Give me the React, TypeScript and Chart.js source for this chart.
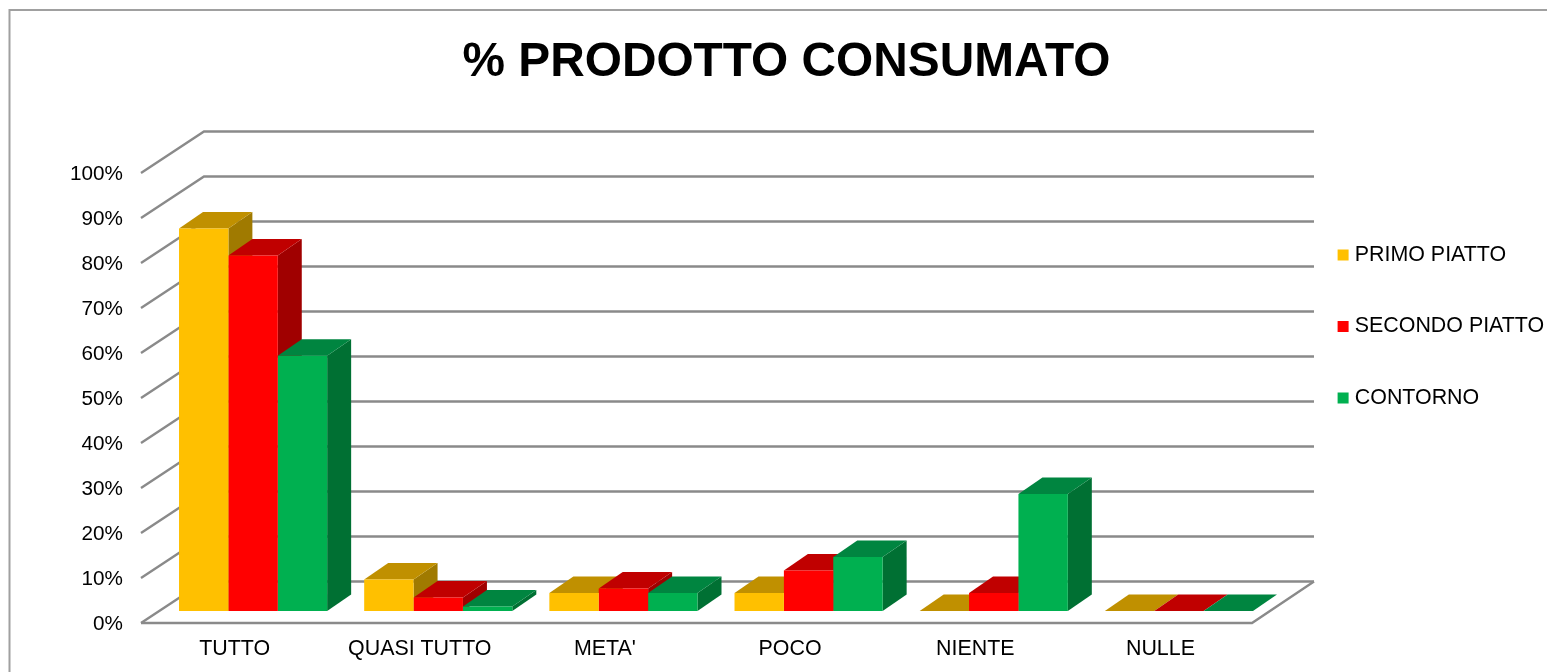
import React, { useEffect, useRef } from "react";
import { Chart, registerables } from "chart.js";

Chart.register(...registerables);

const categories = ["TUTTO", "QUASI TUTTO", "META'", "POCO", "NIENTE", "NULLE"];
const primoPiatto = [85, 7, 4, 4, 0, 0];
const secondoPiatto = [79, 3, 5, 9, 4, 0];
const contorno = [56.7, 1, 4, 12, 26, 0];
const seriesNames = ["PRIMO PIATTO", "SECONDO PIATTO", "CONTORNO"];
const frontColors = ["#FFC000", "#FF0000", "#00B050"];
const topColors = ["#C09000", "#C00000", "#008540"];
const sideColors = ["#A07A00", "#A00000", "#007033"];
const yTicks = [0, 10, 20, 30, 40, 50, 60, 70, 80, 90, 100];

const FONT = "'Liberation Sans', Arial, sans-serif";
const WALL = { dx: 63, dy: -41.5 };
const BAR_SHIFT = { dx: 19.5, dy: -12 };
const BAR_DEPTH = { dx: 24, dy: -16.5 };

const poly = (ctx: CanvasRenderingContext2D, pts: number[][], fill: string) => {
  ctx.beginPath();
  pts.forEach((p, i) => (i ? ctx.lineTo(p[0], p[1]) : ctx.moveTo(p[0], p[1])));
  ctx.closePath();
  ctx.fillStyle = fill;
  ctx.fill();
};

const scene3d = {
  id: "scene3d",
  afterLayout(chart: any) {
    const { titleBlock, legend } = chart;
    titleBlock.left = 26;
    titleBlock.right = 1547;
    titleBlock.width = 1521;
    legend.left = 1292;
    legend.right = 1547;
    legend.width = 255;
    legend.top = 194.2;
    legend.bottom = 480;
    legend.height = 285.8;
  },
  beforeDraw(chart: any) {
    const ctx = chart.ctx;
    ctx.save();
    ctx.strokeStyle = "#A0A0A0";
    ctx.lineWidth = 2;
    ctx.beginPath();
    ctx.moveTo(9.5, 672);
    ctx.lineTo(9.5, 10);
    ctx.lineTo(1547, 10);
    ctx.stroke();
    ctx.restore();
  },
  beforeDatasetsDraw(chart: any) {
    const ctx = chart.ctx;
    const { left, right } = chart.chartArea;
    const y = chart.scales.y;
    ctx.save();
    ctx.strokeStyle = "#8A8A8A";
    ctx.lineWidth = 2.4;
    ctx.lineJoin = "miter";
    yTicks.forEach((v) => {
      const py = y.getPixelForValue(v);
      ctx.beginPath();
      ctx.moveTo(left, py);
      ctx.lineTo(left + WALL.dx, py + WALL.dy);
      ctx.lineTo(right + WALL.dx - 1, py + WALL.dy);
      ctx.stroke();
    });
    const y0 = y.getPixelForValue(0);
    ctx.beginPath();
    ctx.moveTo(left, y0);
    ctx.lineTo(right, y0);
    ctx.lineTo(right + WALL.dx - 1, y0 + WALL.dy);
    ctx.stroke();
    ctx.restore();

    ctx.save();
    ctx.translate(BAR_SHIFT.dx, BAR_SHIFT.dy);
    categories.forEach((_, i) => {
      seriesNames.forEach((__, d) => {
        const el = chart.getDatasetMeta(d).data[i];
        const x0 = el.x - el.width / 2;
        const x1 = el.x + el.width / 2;
        const top = el.y;
        const base = el.base;
        const { dx, dy } = BAR_DEPTH;
        poly(ctx, [[x1, top], [x1 + dx, top + dy], [x1 + dx, base + dy], [x1, base]], sideColors[d]);
        poly(ctx, [[x0, top], [x1, top], [x1 + dx, top + dy], [x0 + dx, top + dy]], topColors[d]);
      });
    });
  },
  afterDatasetsDraw(chart: any) {
    chart.ctx.restore();
  },
};

export default function App() {
  const ref = useRef<HTMLCanvasElement>(null);
  useEffect(() => {
    const values = [primoPiatto, secondoPiatto, contorno];
    const chart = new Chart(ref.current as HTMLCanvasElement, {
      type: "bar",
      data: {
        labels: categories,
        datasets: seriesNames.map((label, d) => ({
          label,
          data: values[d],
          backgroundColor: frontColors[d],
          borderWidth: 0,
          clip: false as any,
          barPercentage: 1,
          categoryPercentage: 0.8,
        })),
      },
      options: {
        responsive: false,
        animation: false,
        devicePixelRatio: 1,
        layout: { autoPadding: false, padding: { left: 0, top: 0, right: 295, bottom: 0 } },
        plugins: {
          tooltip: { enabled: false },
          title: {
            display: true,
            text: "% PRODOTTO CONSUMATO",
            color: "#000000",
            font: { family: FONT, size: 47.8, weight: "bold", lineHeight: 1.2 },
            padding: { top: 34.5, bottom: 81.1 },
          },
          legend: {
            display: true,
            position: "chartArea",
            align: "start",
            labels: {
              color: "#000000",
              font: { family: FONT, size: 21.4 },
              usePointStyle: true,
              pointStyle: "rect",
              boxWidth: 2,
              boxHeight: 11,
              padding: 50.1,
            },
          },
        },
        scales: {
          x: {
            grid: { display: false, drawTicks: false },
            border: { display: false },
            afterFit: (s: any) => {
              s.height = 49;
            },
            ticks: {
              color: "#000000",
              font: { family: FONT, size: 21.4 },
              padding: 13.5,
              labelOffset: 1,
              maxRotation: 0,
              autoSkip: false,
            },
          },
          y: {
            min: 0,
            max: 100,
            grid: { display: false, drawTicks: false },
            border: { display: false },
            afterFit: (s: any) => {
              s.width = 141;
            },
            ticks: {
              stepSize: 10,
              color: "#000000",
              font: { family: FONT, size: 20.7 },
              padding: 18,
              labelOffset: 1.5,
              callback: (v: any) => `${v}%`,
            },
          },
        },
      },
      plugins: [scene3d],
    });
    return () => chart.destroy();
  }, []);
  return (
    <canvas
      ref={ref}
      width={1547}
      height={672}
      style={{ position: "absolute", left: 0, top: 0, display: "block" }}
    />
  );
}
